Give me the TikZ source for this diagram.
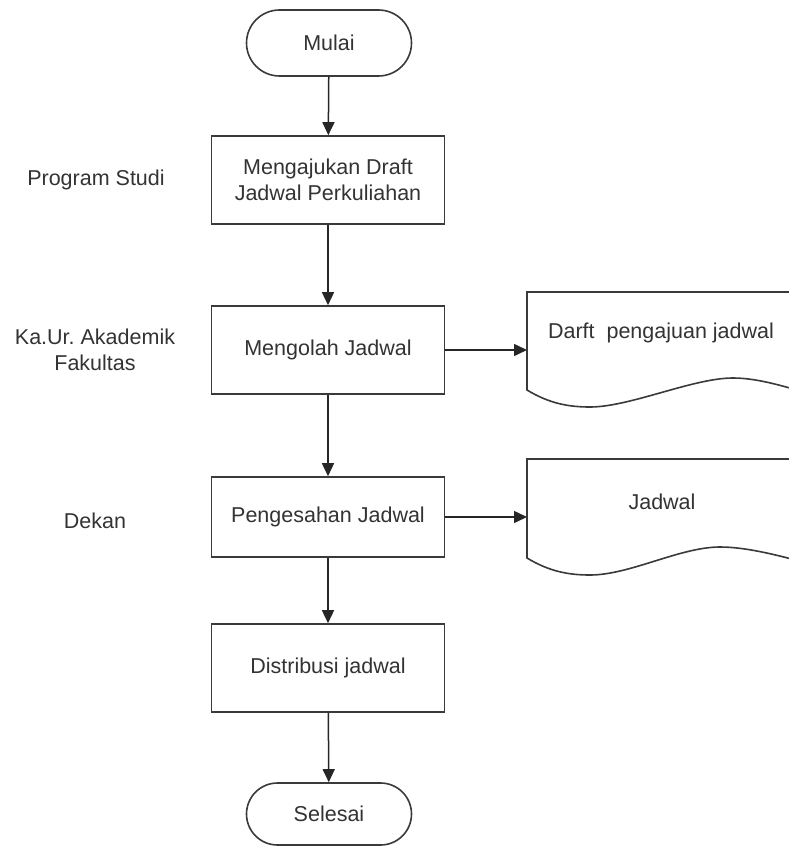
\documentclass[tikz,border=0pt]{standalone}
\usepackage{fontspec}
\setmainfont{Liberation Sans}
\usetikzlibrary{arrows.meta,shapes.misc}
\definecolor{ink}{HTML}{333333}
\definecolor{edge}{HTML}{3A3A3A}
\frenchspacing
\begin{document}
\begin{tikzpicture}[x=1pt,y=-1pt,
  every node/.style={font=\fontsize{21.5}{26}\selectfont, text=ink},
  procbox/.style={draw=edge, line width=1.6pt, fill=white, rectangle,
    minimum width=233pt, align=center, inner sep=0pt},
  terminal/.style={draw=edge, line width=1.6pt, fill=white, rounded rectangle,
    minimum width=165pt, inner sep=0pt},
  docshape/.style={draw=edge, line width=1.6pt, fill=white},
  flow/.style={draw=black!85, line width=1.5pt, -{Triangle[length=13pt,width=12pt]}},
  role/.style={align=center, inner sep=0pt}]
\useasboundingbox (0,0) rectangle (789,848);
\clip (0,0) rectangle (789,848);

% main column
\node[terminal, minimum height=66pt] (mulai) at (329,43) {Mulai};
\node[procbox, minimum height=88pt] (b1) at (328,180) {Mengajukan Draft\\Jadwal Perkuliahan};
\node[procbox, minimum height=88pt] (b2) at (328,350) {Mengolah Jadwal};
\node[procbox, minimum height=80pt] (b3) at (328,517) {Pengesahan Jadwal};
\node[procbox, minimum height=88pt] (b4) at (328,668) {Distribusi jadwal};
\node[terminal, minimum height=62pt] (selesai) at (329,814) {Selesai};

% role labels on the left
\node[role] (r1) at (96,180) {Program Studi};
\node[role] (r2) at (95,350) {Ka.Ur. Akademik\\Fakultas};
\node[role] (r3) at (95,521) {Dekan};

% output documents
\path[docshape] (527,292) -- (830,292) -- (830,400)
  .. controls (790,388) and (760,378) .. (733,378)
  .. controls (693,378) and (630,407) .. (590,407)
  .. controls (570,407) and (550,404) .. (527,390) -- cycle;
\node (d1) at (661,333) {Darft\ \ pengajuan jadwal};
\coordinate (d1in) at (527,350);

\path[docshape] (527,459) -- (830,459) -- (830,570)
  .. controls (790,558) and (750,547) .. (720,547)
  .. controls (680,547) and (630,575) .. (590,575)
  .. controls (570,575) and (550,572) .. (527,558) -- cycle;
\node (d2) at (662,502) {Jadwal};
\coordinate (d2in) at (527,517);

% flow connectors
\draw[flow] (mulai) -- (b1);
\draw[flow] (b1) -- (b2);
\draw[flow] (b2) -- (b3);
\draw[flow] (b3) -- (b4);
\draw[flow] (b4) -- (selesai);
\draw[flow] (b2.east) -- (d1in);
\draw[flow] (b3.east) -- (d2in);
\end{tikzpicture}
\end{document}
